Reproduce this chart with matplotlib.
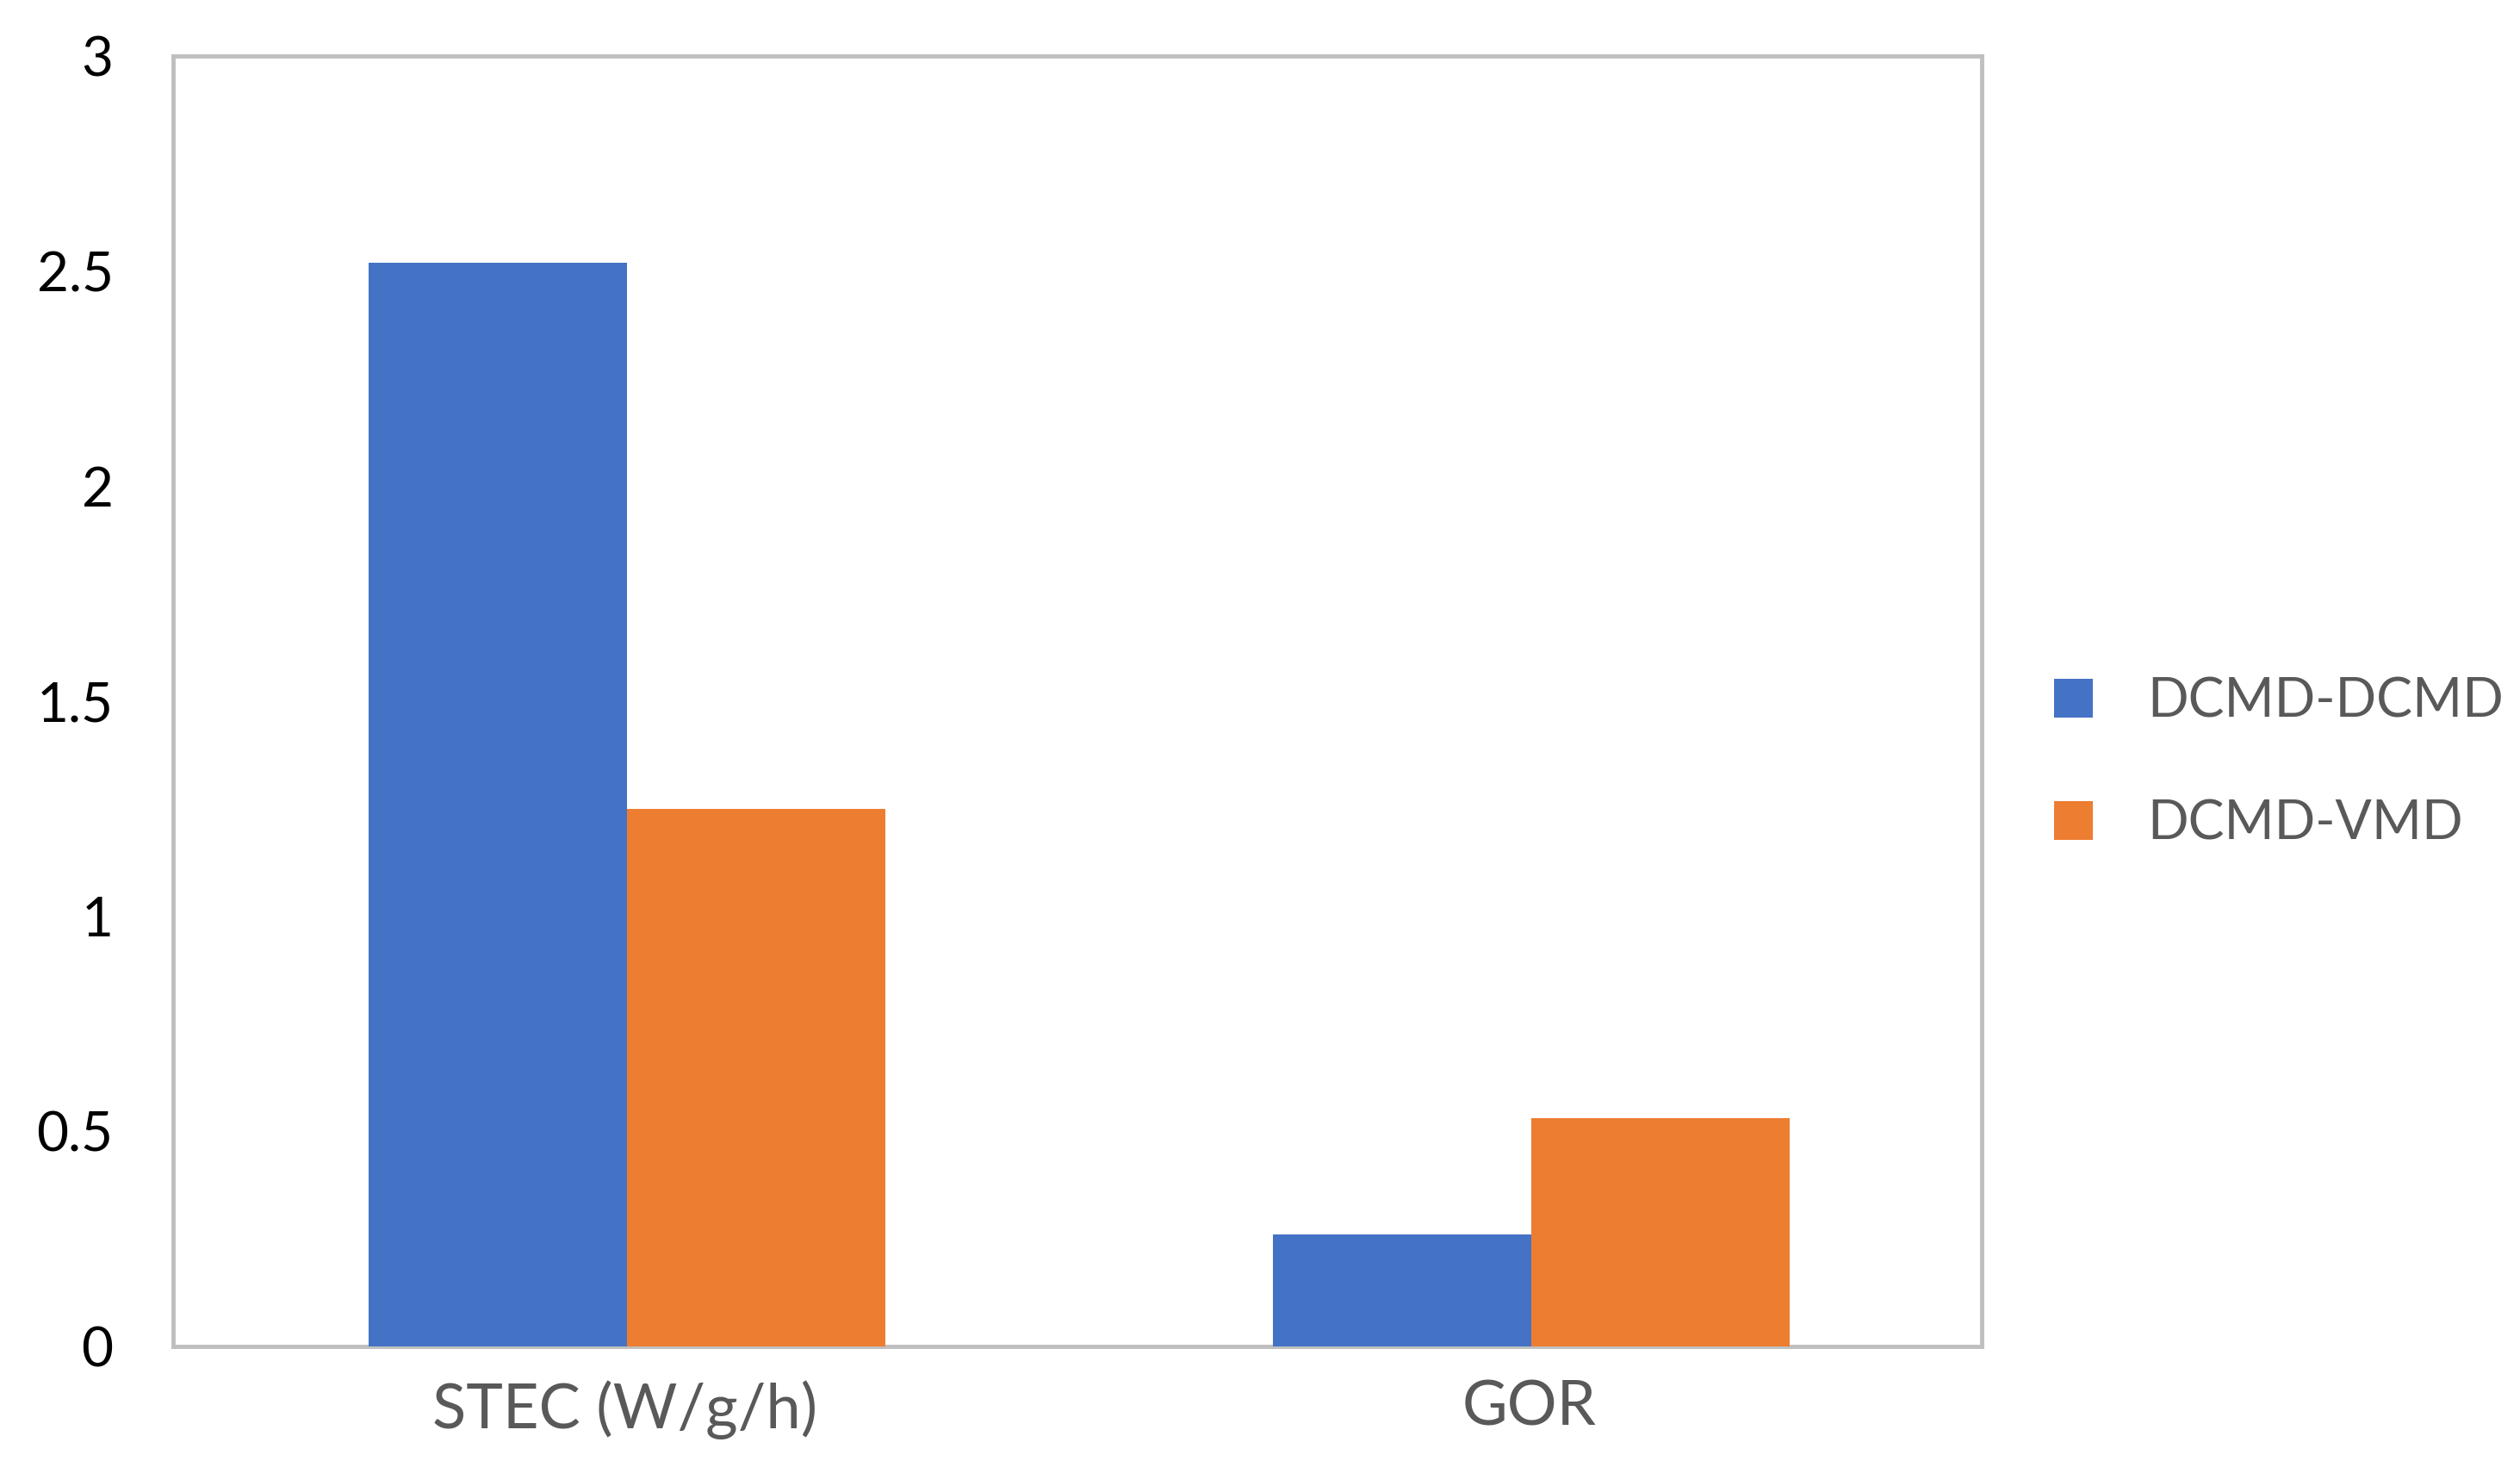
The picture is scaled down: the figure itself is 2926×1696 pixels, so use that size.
import matplotlib
matplotlib.use("Agg")
import matplotlib.pyplot as plt
import numpy as np

categories = ["STEC (W/g/h)", "GOR"]
series_names = ["DCMD-DCMD", "DCMD-VMD"]
dcmd_dcmd = [2.52, 0.26]
dcmd_vmd = [1.25, 0.53]
yticks = [0, 0.5, 1, 1.5, 2, 2.5, 3]
ytick_labels = ["0", "0.5", "1", "1.5", "2", "2.5", "3"]

colors = ["#4472C4", "#ED7D31"]

plt.rcParams['font.family'] = ['Lato', 'DejaVu Sans']

fig = plt.figure(figsize=(29.26, 16.96), dpi=100)
ax = fig.add_axes([0.0687, 0.0784, 0.7176, 0.8833])

x = np.arange(len(categories))
w = 0.286
b1 = ax.bar(x - w / 2 + 0.002, dcmd_dcmd, width=w, color=colors[0], label=series_names[0], zorder=1)
b2 = ax.bar(x + w / 2 + 0.002, dcmd_vmd, width=w, color=colors[1], label=series_names[1], zorder=1)

ax.set_xlim(-0.5, 1.5)
ax.set_ylim(0, 3)
ax.set_yticks(yticks)
ax.set_yticklabels(ytick_labels, fontsize=46, color="black")
ax.set_xticks(x)
ax.set_xticklabels(categories, fontsize=52, color="#595959")
ax.tick_params(axis="both", length=0)
ax.tick_params(axis="y", pad=50)
ax.tick_params(axis="x", pad=28)

for s in ax.spines.values():
    s.set_color("#BFBFBF")
    s.set_linewidth(3.5)
    s.set_zorder(0)

leg = fig.legend(handles=[b1, b2], labels=series_names, loc="center left",
                 bbox_to_anchor=(0.796, 0.478), frameon=False, fontsize=45,
                 handlelength=0.72, handleheight=0.72, handletextpad=1.0,
                 labelspacing=1.35, labelcolor="#595959")

fig.savefig("out.png", dpi=100)
